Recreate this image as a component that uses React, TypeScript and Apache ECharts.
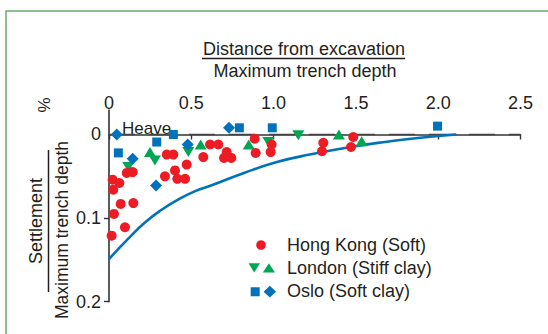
import React, { useEffect, useRef } from 'react';
import * as echarts from 'echarts';

// Axis ticks
const xTickValues = [0, 0.5, 1.0, 1.5, 2.0, 2.5];
const yLabelValues = [0, 0.1, 0.2];
const yTickValues = [0.1, 0.2];

// Hong Kong (Soft) – red circles [distance ratio, settlement %]
const hongKong: [number, number][] = [
  [0.022, 0.054], [0.063, 0.058], [0.026, 0.066], [0.108, 0.046], [0.144, 0.045],
  [0.071, 0.083], [0.148, 0.082], [0.030, 0.095], [0.097, 0.111], [0.016, 0.121],
  [0.351, 0.024], [0.391, 0.024], [0.472, 0.036], [0.573, 0.027], [0.401, 0.043],
  [0.340, 0.050], [0.415, 0.053], [0.462, 0.053], [0.614, 0.012], [0.664, 0.012],
  [0.715, 0.021], [0.699, 0.028], [0.743, 0.028], [0.885, 0.005], [0.891, 0.022],
  [0.988, 0.012], [0.982, 0.021], [1.302, 0.010], [1.294, 0.020], [1.484, 0.003],
  [1.470, 0.015],
];

// London (Stiff clay) – green triangles
const londonDown: [number, number][] = [
  [0.117, 0.039], [0.279, 0.031], [0.482, 0.021], [0.968, 0.009], [1.150, 0.001],
];
const londonUp: [number, number][] = [
  [0.249, 0.021], [0.557, 0.012], [0.849, 0.012], [1.397, 0.0], [1.535, 0.008],
];

// Oslo (Soft clay) – blue squares / diamonds
const osloSquare: [number, number][] = [
  [0.057, 0.022], [0.290, 0.009], [0.391, 0.0], [0.792, -0.008], [0.992, -0.008], [1.996, -0.010],
];
const osloDiamond: [number, number][] = [
  [0.047, 0.0], [0.144, 0.029], [0.286, 0.061], [0.478, 0.012], [0.729, -0.008],
];

// Envelope curve
const curveX = [0, 0.12, 0.22, 0.32, 0.42, 0.52, 0.62, 0.82, 1.02, 1.22, 1.48, 1.69, 1.89, 2.11];
const curveY = [0.149, 0.124, 0.105, 0.090, 0.078, 0.068, 0.061, 0.046, 0.033, 0.024, 0.0146, 0.0086, 0.0038, 0];

// Zero reference line
const zeroLine: [number, number][] = [[0, 0], [2.5, 0]];

const RED = '#ed1c24';
const GREEN = '#00a651';
const BLUE = '#0072bc';
const INK = '#231f20';
const FONT = '"Liberation Sans", Arial, Helvetica, sans-serif';

function txt(text: string, x: number, y: number, size: number, rotation = 0, align = 'center') {
  return {
    type: 'text',
    x,
    y,
    rotation,
    style: {
      text,
      fill: INK,
      fontSize: size,
      fontFamily: FONT,
      align,
      textAlign: align,
      verticalAlign: 'middle',
      textVerticalAlign: 'middle',
    },
  };
}

export default function App() {
  const ref = useRef<HTMLDivElement>(null);
  useEffect(() => {
    const chart = echarts.init(ref.current!, null, { renderer: 'svg' });
    chart.setOption({
      animation: false,
      backgroundColor: '#ffffff',
      grid: { left: 109, right: 27.5, top: 110, bottom: 32.3, containLabel: false, outerBoundsMode: 'none' },
      xAxis: {
        type: 'value',
        position: 'top',
        min: 0,
        max: 2.5,
        interval: 0.5,
        offset: -8.5,
        axisLine: { show: true, lineStyle: { color: '#333', width: 1.6 } },
        axisTick: { show: true, inside: true, length: 5, lineStyle: { color: '#333', width: 1.4 } },
        axisLabel: {
          show: true,
          margin: 7,
          color: INK,
          fontSize: 18,
          fontFamily: FONT,
          customValues: xTickValues,
          formatter: (v: number) => (v === 0 ? '0' : v.toFixed(1)),
        },
        splitLine: { show: false },
      },
      yAxis: {
        type: 'value',
        inverse: true,
        min: -0.0293,
        max: 0.2,
        axisLine: { show: true, lineStyle: { color: '#333', width: 1.6 } },
        axisTick: { show: true, inside: false, length: 5, customValues: yTickValues, lineStyle: { color: '#333', width: 1.4 } },
        axisLabel: {
          show: true,
          margin: 8,
          color: INK,
          fontSize: 18,
          fontFamily: FONT,
          customValues: yLabelValues,
          formatter: (v: number) => (v === 0 ? '0' : String(Math.round(v * 10) / 10)),
        },
        splitLine: { show: false },
      },
      series: [
        {
          type: 'line',
          data: zeroLine,
          symbol: 'none',
          lineStyle: { color: '#444', width: 1.4, type: [26, 14] },
          silent: true,
          z: 1,
        },
        {
          type: 'line',
          data: curveX.map((x, i) => [x, curveY[i]]),
          smooth: true,
          symbol: 'none',
          lineStyle: { color: BLUE, width: 2.6 },
          z: 2,
        },
        {
          type: 'scatter',
          data: londonDown,
          symbol: 'triangle',
          symbolRotate: 180,
          symbolSize: [12, 10],
          itemStyle: { color: GREEN, opacity: 1 },
          z: 3,
        },
        {
          type: 'scatter',
          data: londonUp,
          symbol: 'triangle',
          symbolSize: [12, 10],
          itemStyle: { color: GREEN, opacity: 1 },
          z: 3,
        },
        {
          type: 'scatter',
          data: hongKong,
          symbol: 'circle',
          symbolSize: 10,
          itemStyle: { color: RED, opacity: 1 },
          z: 4,
        },
        {
          type: 'scatter',
          data: osloSquare,
          symbol: 'rect',
          symbolSize: 9,
          itemStyle: { color: BLUE, opacity: 1 },
          z: 5,
        },
        {
          type: 'scatter',
          data: osloDiamond,
          symbol: 'diamond',
          symbolSize: 12,
          itemStyle: { color: BLUE, opacity: 1 },
          z: 5,
        },
      ],
      graphic: [
        {
          type: 'rect',
          shape: { x: 6, y: 11, width: 600, height: 400 },
          style: { fill: 'none', stroke: '#6aa86a', lineWidth: 1.5 },
          silent: true,
        },
        // X axis title (fraction)
        txt('Distance from excavation', 304, 48.5, 18),
        { type: 'line', shape: { x1: 202, y1: 58.5, x2: 405, y2: 58.5 }, style: { stroke: INK, lineWidth: 1.5 } },
        txt('Maximum trench depth', 305, 71, 18),
        // Y axis title (fraction)
        txt('%', 44, 105, 17, Math.PI / 2),
        txt('Settlement', 36, 221, 18, Math.PI / 2),
        { type: 'line', shape: { x1: 48.5, y1: 150, x2: 48.5, y2: 292 }, style: { stroke: INK, lineWidth: 1.5 } },
        txt('Maximum trench depth', 62, 230, 17.5, Math.PI / 2),
        // Heave label
        txt('Heave', 122, 128, 17, 0, 'left'),
        // Legend
        { type: 'circle', shape: { cx: 261, cy: 245, r: 4.8 }, style: { fill: RED } },
        txt('Hong Kong (Soft)', 287, 245, 18, 0, 'left'),
        { type: 'polygon', shape: { points: [[248.5, 263.3], [260, 263.3], [254.2, 272.5]] }, style: { fill: GREEN } },
        { type: 'polygon', shape: { points: [[262.8, 272.5], [275, 272.5], [268.9, 263.3]] }, style: { fill: GREEN } },
        txt('London (Stiff clay)', 287, 268, 18, 0, 'left'),
        { type: 'rect', shape: { x: 250.7, y: 287.3, width: 9, height: 9 }, style: { fill: BLUE } },
        { type: 'polygon', shape: { points: [[269.8, 285.8], [276, 291.7], [269.8, 297.6], [263.6, 291.7]] }, style: { fill: BLUE } },
        txt('Oslo (Soft clay)', 287, 291, 18, 0, 'left'),
      ],
    });
    return () => chart.dispose();
  }, []);
  return (
    <div
      ref={ref}
      style={{ position: 'fixed', left: 0, top: 0, width: 548, height: 334, background: '#fff' }}
    />
  );
}
